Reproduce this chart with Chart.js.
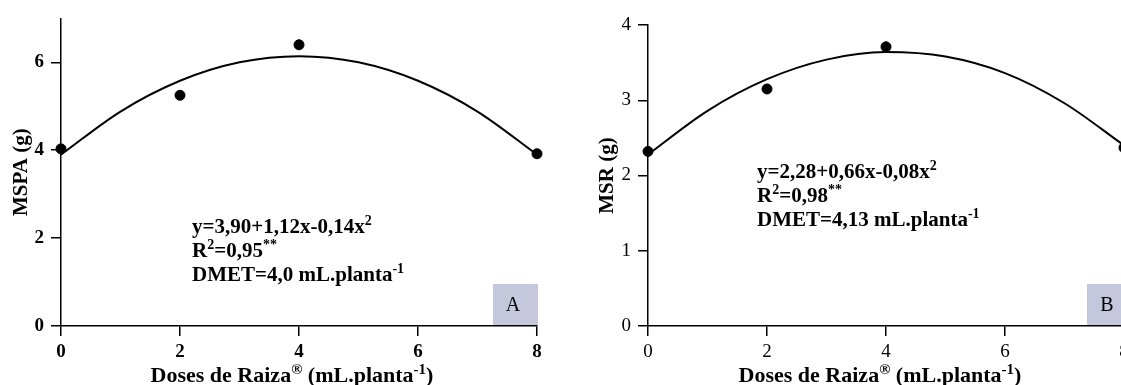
<!DOCTYPE html>
<html>
<head>
<meta charset="utf-8">
<script src="https://cdn.jsdelivr.net/npm/chart.js@4/dist/chart.umd.min.js"></script>
<style>
  html, body { margin: 0; padding: 0; background: #fff; overflow: hidden; }
  body { width: 1121px; height: 385px; position: relative; }
  .panel { position: absolute; top: 0; }
</style>
</head>
<body>
<div class="panel" style="left:0px"><canvas id="chartA" width="560" height="385"></canvas></div>
<div class="panel" style="left:580px"><canvas id="chartB" width="560" height="385"></canvas></div>
<script>
// doses (mL.planta-1)
var doses = [0, 2, 4, 8];
var curveX = [0, 1, 2, 3, 4, 5, 6, 7, 8];

// panel A - MSPA (g)
var mspaObs = [4.03, 5.25, 6.40, 3.92];
var mspaFit = [3.90, 4.88, 5.58, 6.00, 6.14, 6.00, 5.58, 4.88, 3.90];

// panel B - MSR (g)
var msrObs = [2.32, 3.15, 3.71, 2.37];
var msrFit = [2.28, 2.86, 3.28, 3.54, 3.64, 3.58, 3.36, 2.96, 2.40];

var xTicks = [0, 2, 4, 6, 8];
var serif = '"Liberation Serif", "Times New Roman", serif';

function pts(xs, ys) {
  return xs.map(function (x, i) { return { x: x, y: ys[i] }; });
}

// draws a line of text with superscript parts: [[text, isSup], ...]
function drawRich(ctx, parts, x, y, size) {
  var cx = x;
  parts.forEach(function (p) {
    var sup = p[1];
    var fs = sup ? Math.round(size * 0.66) : size;
    ctx.font = 'bold ' + fs + 'px ' + serif;
    ctx.fillText(p[0], cx, sup ? y - size * 0.36 : y);
    cx += ctx.measureText(p[0]).width;
  });
  return cx - x;
}

function textPlugin(cfg) {
  return {
    id: 'txt' + cfg.letter,
    afterDraw: function (chart) {
      var ctx = chart.ctx;
      ctx.save();
      ctx.fillStyle = '#000';
      ctx.textBaseline = 'alphabetic';
      ctx.textAlign = 'left';
      // equation block
      cfg.lines.forEach(function (ln, i) {
        drawRich(ctx, ln, cfg.eqX, cfg.eqY + i * 24, 21);
      });
      // x axis title, centred
      var title = [['Doses de Raiza', false], ['\u00ae', true], [' (mL.planta', false], ['-1', true], [')', false]];
      ctx.globalAlpha = 0;
      var w = drawRich(ctx, title, 0, -100, 22);
      ctx.globalAlpha = 1;
      drawRich(ctx, title, cfg.titleCx - w / 2, 382, 22);
      // letter box
      ctx.fillStyle = '#c5c8dc';
      ctx.fillRect(cfg.box[0], cfg.box[1], cfg.box[2], cfg.box[3]);
      ctx.fillStyle = '#000';
      ctx.font = '20px ' + serif;
      ctx.textAlign = 'center';
      ctx.textBaseline = 'middle';
      ctx.fillText(cfg.letter, cfg.box[0] + 20, cfg.box[1] + cfg.box[3] / 2 + 1);
      ctx.restore();
    }
  };
}

function makeChart(id, opt) {
  return new Chart(document.getElementById(id), {
    type: 'scatter',
    data: {
      datasets: [{
        type: 'line',
        data: pts(curveX, opt.fit),
        borderColor: '#000',
        borderWidth: 2,
        pointRadius: 0,
        cubicInterpolationMode: 'monotone',
        fill: false,
        clip: false
      }, {
        data: pts(doses, opt.obs),
        backgroundColor: '#000',
        borderColor: '#000',
        pointRadius: 5,
        clip: false
      }]
    },
    options: {
      responsive: false,
      animation: false,
      events: [],
      layout: { padding: { top: opt.top, right: opt.right, left: 0, bottom: 0 } },
      plugins: { legend: { display: false }, tooltip: { enabled: false } },
      scales: {
        x: {
          type: 'linear',
          min: 0, max: 8,
          afterBuildTicks: function (s) { s.ticks = xTicks.map(function (v) { return { value: v }; }); },
          afterFit: function (s) { s.height = 59; },
          border: { color: '#000', width: 1.5 },
          grid: { drawOnChartArea: false, color: '#000', lineWidth: 1.5, tickLength: 10 },
          ticks: { color: '#000', padding: 5, maxRotation: 0, font: { family: serif, size: 19, weight: opt.tickWeight } }
        },
        y: {
          min: 0, max: opt.ymax,
          afterBuildTicks: function (s) { s.ticks = opt.yTicks.map(function (v) { return { value: v }; }); },
          afterFit: function (s) { s.width = opt.left; },
          border: { color: '#000', width: 1.5 },
          grid: { drawOnChartArea: false, color: '#000', lineWidth: 1.5, tickLength: 10 },
          ticks: { color: '#000', padding: 7, font: { family: serif, size: 19, weight: opt.tickWeight } },
          title: { display: true, text: opt.ytitle, color: '#000', padding: { top: opt.ytitlePad, bottom: 0 },
                   font: { family: serif, size: 21, weight: 'bold' } }
        }
      }
    },
    plugins: [opt.plugin]
  });
}

makeChart('chartA', {
  obs: mspaObs, fit: mspaFit, ymax: 7, yTicks: [0, 2, 4, 6],
  top: 17, right: 23, left: 61, tickWeight: 'bold', ytitle: 'MSPA (g)', ytitlePad: 9,
  plugin: textPlugin({
    letter: 'A', eqX: 192, eqY: 233, titleCx: 292, box: [493, 284, 45, 41],
    lines: [
      [['y=3,90+1,12x-0,14x', false], ['2', true]],
      [['R', false], ['2', true], ['=0,95', false], ['**', true]],
      [['DMET=4,0 mL.planta', false], ['-1', true]]
    ]
  })
});

makeChart('chartB', {
  obs: msrObs, fit: msrFit, ymax: 4, yTicks: [0, 1, 2, 3, 4],
  top: 25, right: 16, left: 68, tickWeight: 'normal', ytitle: 'MSR (g)', ytitlePad: 15,
  plugin: textPlugin({
    letter: 'B', eqX: 757 - 580, eqY: 178, titleCx: 880 - 580, box: [1087 - 580, 284, 50, 41],
    lines: [
      [['y=2,28+0,66x-0,08x', false], ['2', true]],
      [['R', false], ['2', true], ['=0,98', false], ['**', true]],
      [['DMET=4,13 mL.planta', false], ['-1', true]]
    ]
  })
});
</script>
</body>
</html>
